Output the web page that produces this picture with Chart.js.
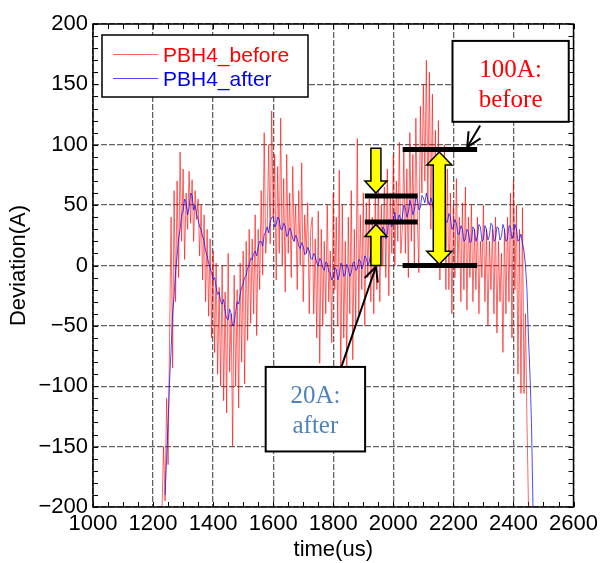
<!DOCTYPE html>
<html>
<head>
<meta charset="utf-8">
<script src="https://cdn.jsdelivr.net/npm/chart.js@4/dist/chart.umd.min.js"></script>
<style>
  html, body { margin: 0; padding: 0; background: #fff; }
  #wrap { width: 602px; height: 563px; }
</style>
</head>
<body>
<div id="wrap"><canvas id="devChart" width="602" height="563"></canvas></div>
<script>
// PBH4 deviation
// red trace sampled every 5 us from 1230 us
const beforeStart = 1230
const beforeStep = 5
const beforeValues = [
  -200, -150, -195, -110, -165, -60, 40, -85, 62, -30,   // 1230
  70, -10, 94, 20, 80, 5, 60, 30, 78, 35,                // 1280
  71, 20, 62, 38, 55, 8, 50, -12, 42, -30,               // 1330
  30, -42, 22, -60, 12, -72, 2, -90, -18, -100,          // 1380
  0, -112, -22, -122, 10, -88, -40, -150, -8, -100,      // 1430
  -20, -118, 2, -80, 12, -98, 20, -62, 30, -48,          // 1480
  22, -40, 42, -58, 30, -20, 62, -8, 110, 10,            // 1530
  32, 100, 18, 128, 40, 92, -12, 82, 10, 122,            // 1580
  0, 72, -22, 92, 10, 60, -10, 82, 20, 50,               // 1630
  -20, 62, 0, 85, -30, 42, 10, 52, -40, 30,              // 1680
  40, -40, 22, -60, 45, -81, 30, -50, 20, -40,           // 1730
  50, -30, 12, -64, 60, -20, 40, -50, 79, -100,          // 1780
  50, -60, 20, -84, 40, -40, 62, -78, 30, -50,           // 1830
  105, -40, 42, -20, 60, -50, 52, -10, 55, -30,          // 1880
  40, -40, 62, -20, 70, -30, 50, 0, 65, -10,             // 1930
  80, -25, 60, 10, 92, 0, 70, 20, 102, 10,               // 1980
  30, 95, 10, 80, -10, 110, 20, 92, 0, 122,              // 2030
  40, -6, 132, 60, 150, 70, 170, 50, 160, 30,            // 2080
  142, 20, 112, 0, 120, -12, 90, 10, 100, -20,           // 2130
  80, -20, 60, -40, 50, -10, 72, 0, 40, -30,             // 2180
  52, -20, 65, -37, 40, -10, 50, -30, 30, -20,           // 2230
  40, -40, 20, -10, 50, -30, 30, -50, 20, -20,           // 2280
  30, -40, 40, -56, 20, -30, 10, -72, 30, -40,           // 2330
  40, -30, 60, -60, 71, -20, 50, -90, 30, -106,          // 2380
  48, -106, -40, -130, -200                              // 2430
]

// blue trace sampled every 5 us from 1240 us
const afterStart = 1240
const afterStep = 5
const afterValues = [
  -190, -160, -130, -95, -70, -40, -25, -5, 8, 22,       // 1240
  30, 42, 45, 55, 52, 42, 48, 60, 58, 46,                // 1290
  50, 42, 38, 32, 30, 24, 20, 12, 8, 2,                  // 1340
  -2, -6, -12, -10, -18, -24, -22, -30, -32, -28,        // 1390
  -38, -44, -45, -36, -40, -50, -48, -38, -30, -32,      // 1440
  -24, -18, -15, -10, -8, -2, 0, 6, 5, 10,               // 1490
  12, 8, 15, 20, 20, 16, 25, 28, 32, 27,                 // 1540
  36, 40, 40, 32, 34, 40, 38, 30, 30, 35,                // 1590
  33, 24, 26, 31, 28, 22, 20, 25, 22, 16,                // 1640
  14, 19, 16, 9, 10, 15, 12, 6, 5, 10,                   // 1690
  8, 2, 0, 6, 4, -2, -4, 3, 2, -5,                       // 1740
  -6, -12, -10, -2, -3, -12, -8, 2, 0, -9,               // 1790
  -7, 1, -2, -9, -6, 2, 3, -4, -3, 5,                    // 1840
  4, -3, 0, 8, 6, 0, 3, 10, 12, 8,                       // 1890
  15, 22, 20, 16, 24, 32, 30, 22, 26, 38,                // 1940
  36, 32, 38, 44, 34, 38, 42, 36, 40, 50,                // 1990
  48, 40, 44, 54, 50, 42, 46, 56, 55, 46,                // 2040
  48, 58, 56, 52, 60, 54, 50, 56, 52, 42,                // 2090
  44, 50, 48, 40, 40, 47, 44, 36, 36, 43,                // 2140
  40, 30, 32, 38, 35, 26, 26, 33, 30, 20,                // 2190
  22, 30, 28, 19, 20, 32, 30, 20, 24, 34,                // 2240
  32, 20, 22, 33, 30, 21, 25, 35, 33, 20,                // 2290
  22, 32, 31, 21, 24, 34, 30, 20, 22, 33,                // 2340
  32, 22, 26, 34, 30, 20, 22, 26, 18, 12,                // 2390
  0, -20, -60, -90, -130, -200                           // 2440
]

const seriesLabels = ['PBH4_before', 'PBH4_after']
const seriesColors = ['rgba(255, 0, 0, 0.6)', 'rgba(0, 0, 255, 0.7)']
const xTicks = [1000, 1200, 1400, 1600, 1800, 2000, 2200, 2400, 2600]
const yTicks = [-200, -150, -100, -50, 0, 50, 100, 150, 200]

const toPoints = (start, step, values) => values.map((v, i) => ({ x: start + i * step, y: v }))

// annotations, in data units (us, A)
const notes = {
  bars: [
    { x1: 2031, x2: 2279, y: 96 },
    { x1: 2031, x2: 2279, y: 0 },
    { x1: 1905, x2: 2081, y: 57.5 },
    { x1: 1905, x2: 2081, y: 36 }
  ],
  arrowDown: { x: 1942, y1: 97, y2: 60 },
  arrowUp: { x: 1942, y1: 0, y2: 34 },
  arrowBoth: { x: 2153, y1: 1, y2: 94 },
  boxes: [
    { x1: 2197, x2: 2584, y1: 186, y2: 119, lines: ['100A:', 'before'], color: '#ff0000',
      from: { x: 2289, y: 116 }, to: { x: 2246, y: 98 } },
    { x1: 1575, x2: 1906, y1: -84, y2: -154, lines: ['20A:', 'after'], color: '#4f81bd',
      from: { x: 1827, y: -84 }, to: { x: 1942, y: -1 } }
  ]
}

const fixedFrame = {
  id: 'fixedFrame',
  beforeDatasetsDraw(chart) {
    // minor ticks, inward on all four sides
    const { ctx, chartArea: a, scales: { x, y } } = chart
    ctx.save()
    ctx.strokeStyle = '#000'
    ctx.lineWidth = 1
    ctx.beginPath()
    for (let t = 1000; t <= 2600; t += 50) {
      const px = Math.round(x.getPixelForValue(t)) + 0.5
      ctx.moveTo(px, a.bottom); ctx.lineTo(px, a.bottom - 5)
      ctx.moveTo(px, a.top); ctx.lineTo(px, a.top + 5)
    }
    for (let v = -200; v <= 200; v += 10) {
      const py = Math.round(y.getPixelForValue(v)) + 0.5
      ctx.moveTo(a.left, py); ctx.lineTo(a.left + 5, py)
      ctx.moveTo(a.right, py); ctx.lineTo(a.right - 5, py)
    }
    ctx.stroke()
    ctx.restore()
  },
  afterDatasetsDraw(chart) {
    const { ctx, chartArea: a, scales: { x, y } } = chart
    const X = v => x.getPixelForValue(v)
    const Y = v => y.getPixelForValue(v)
    ctx.save()

    // frame
    ctx.strokeStyle = '#000'
    ctx.lineWidth = 1.5
    ctx.strokeRect(a.left, a.top, a.right - a.left, a.bottom - a.top)

    // legend
    const lx = 102, ly = 35, lw = 206, lh = 62
    ctx.fillStyle = '#fff'
    ctx.fillRect(lx, ly, lw, lh)
    ctx.lineWidth = 1.5
    ctx.strokeRect(lx, ly, lw, lh)
    ctx.font = '21px "Liberation Sans", Arial, sans-serif'
    ctx.textBaseline = 'alphabetic'
    ctx.textAlign = 'left'
    const legendText = ['#ff0000', '#0000ee']
    seriesLabels.forEach((lab, i) => {
      const yy = 54 + i * 24
      ctx.strokeStyle = seriesColors[i]
      ctx.lineWidth = 1
      ctx.beginPath(); ctx.moveTo(113, yy + 0.5); ctx.lineTo(158, yy + 0.5); ctx.stroke()
      ctx.fillStyle = legendText[i]
      ctx.fillText(lab, 163, yy + 8)
    })

    // black level bars
    ctx.strokeStyle = '#000'
    ctx.lineWidth = 5
    notes.bars.forEach(b => {
      ctx.beginPath(); ctx.moveTo(X(b.x1), Y(b.y)); ctx.lineTo(X(b.x2), Y(b.y)); ctx.stroke()
    })

    // yellow arrows
    const arrowPath = (cx, yA, yB, sw, hw, hl, both) => {
      // yA tail, yB tip
      const dir = yB > yA ? 1 : -1
      ctx.beginPath()
      if (both) {
        ctx.moveTo(cx, yA)
        ctx.lineTo(cx + hw, yA + dir * hl)
        ctx.lineTo(cx + sw, yA + dir * hl)
      } else {
        ctx.moveTo(cx + sw, yA)
      }
      ctx.lineTo(cx + sw, yB - dir * hl)
      ctx.lineTo(cx + hw, yB - dir * hl)
      ctx.lineTo(cx, yB)
      ctx.lineTo(cx - hw, yB - dir * hl)
      ctx.lineTo(cx - sw, yB - dir * hl)
      if (both) {
        ctx.lineTo(cx - sw, yA + dir * hl)
        ctx.lineTo(cx - hw, yA + dir * hl)
      } else {
        ctx.lineTo(cx - sw, yA)
      }
      ctx.closePath()
      ctx.fillStyle = '#ffff00'
      ctx.fill()
      ctx.strokeStyle = '#000'
      ctx.lineWidth = 1.5
      ctx.stroke()
    }
    const d = notes.arrowDown, u = notes.arrowUp, b2 = notes.arrowBoth
    arrowPath(X(d.x), Y(d.y1), Y(d.y2), 5, 11, 12, false)
    arrowPath(X(u.x), Y(u.y1), Y(u.y2), 5, 11, 12, false)
    arrowPath(X(b2.x), Y(b2.y1), Y(b2.y2), 6, 12.5, 13, true)

    // callout boxes with pointers
    notes.boxes.forEach(bx => {
      const fx = X(bx.from.x), fy = Y(bx.from.y), tx = X(bx.to.x), ty = Y(bx.to.y)
      ctx.strokeStyle = '#000'
      ctx.lineWidth = 2
      ctx.beginPath(); ctx.moveTo(fx, fy); ctx.lineTo(tx, ty); ctx.stroke()
      const ang = Math.atan2(ty - fy, tx - fx)
      ctx.beginPath()
      ;[-0.45, 0.45].forEach(o => {
        ctx.moveTo(tx, ty)
        ctx.lineTo(tx - 16 * Math.cos(ang + o), ty - 16 * Math.sin(ang + o))
      })
      ctx.stroke()

      const x1 = X(bx.x1), x2 = X(bx.x2), y1 = Y(bx.y1), y2 = Y(bx.y2)
      ctx.fillStyle = '#fff'
      ctx.fillRect(x1, y1, x2 - x1, y2 - y1)
      ctx.lineWidth = 2
      ctx.strokeRect(x1, y1, x2 - x1, y2 - y1)
      ctx.fillStyle = bx.color
      ctx.font = '25px "Liberation Serif", "Times New Roman", serif'
      ctx.textAlign = 'center'
      const cx = (x1 + x2) / 2
      bx.lines.forEach((t, i) => ctx.fillText(t, cx, y1 + 36 + i * 30))
    })
    ctx.restore()
  }
}

const tickFont = { family: '"Liberation Sans", Arial, sans-serif', size: 22 }

const chartDev = new Chart(document.getElementById('devChart').getContext('2d'), {
  type: 'line',
  data: {
    datasets: [
      {
        label: seriesLabels[0],
        data: toPoints(beforeStart, beforeStep, beforeValues),
        borderColor: seriesColors[0],
        borderWidth: 1,
        pointRadius: 0,
        tension: 0,
        order: 2
      },
      {
        label: seriesLabels[1],
        data: toPoints(afterStart, afterStep, afterValues),
        borderColor: seriesColors[1],
        borderWidth: 1,
        pointRadius: 0,
        tension: 0,
        order: 1
      }
    ]
  },
  options: {
    responsive: false,
    animation: false,
    devicePixelRatio: 1,
    layout: { padding: { top: 24, right: 25, left: 0, bottom: 0 } },
    plugins: { legend: { display: false }, tooltip: { enabled: false } },
    scales: {
      x: {
        type: 'linear',
        min: 1000,
        max: 2600,
        afterFit: s => { s.height = 56 },
        afterBuildTicks: s => { s.ticks = xTicks.map(v => ({ value: v })) },
        ticks: {
          font: tickFont, color: '#000', padding: 4, maxRotation: 0, autoSkip: false,
          callback: v => String(v)
        },
        grid: { color: 'rgba(70, 70, 70, 0.85)', lineWidth: 1.3, drawTicks: false },
        border: { display: false, dash: [6, 2] },
        title: { display: true, text: 'time(us)', font: tickFont, color: '#000', padding: { top: 0, bottom: 0 } }
      },
      y: {
        min: -200,
        max: 200,
        afterFit: s => { s.width = 93 },
        afterBuildTicks: s => { s.ticks = yTicks.map(v => ({ value: v })) },
        ticks: {
          font: tickFont, color: '#000', padding: 5,
          callback: v => String(v).replace('-', '\u2212')
        },
        grid: { color: 'rgba(70, 70, 70, 0.85)', lineWidth: 1.3, drawTicks: false },
        border: { display: false, dash: [6, 2] },
        title: { display: true, text: 'Deviation(A)', font: tickFont, color: '#000', padding: { top: 6, bottom: 0 } }
      }
    }
  },
  plugins: [fixedFrame]
})
</script>
</body>
</html>
